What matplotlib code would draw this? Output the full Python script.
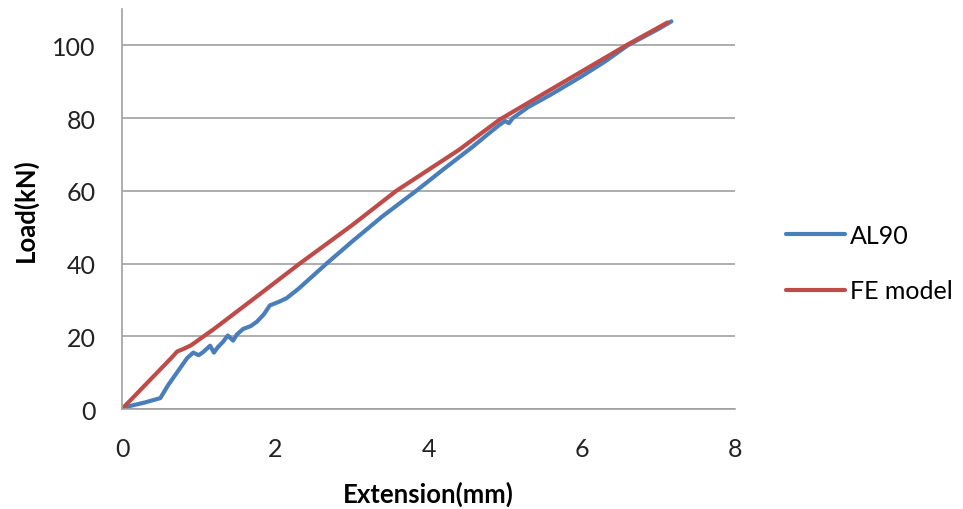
import matplotlib
matplotlib.use('Agg')
import matplotlib.pyplot as plt

plt.rcParams['font.family'] = ['Lato', 'DejaVu Sans']

# AL90 test curve (blue)
al90_x = [0, 0.1, 0.3, 0.5, 0.6, 0.75, 0.85, 0.93, 1.0, 1.05, 1.15, 1.2, 1.25,
          1.32, 1.38, 1.45, 1.5, 1.58, 1.68, 1.76, 1.85, 1.93, 2.05, 2.15, 2.3,
          2.67, 3.0, 3.4, 3.84, 4.2, 4.57, 4.8, 4.93, 5.0, 5.05, 5.1, 5.3, 5.6,
          6.0, 6.3, 6.6, 7.0, 7.17]
al90_y = [0, 0.8, 1.8, 3.0, 6.5, 11, 14, 15.5, 14.8, 15.5, 17.4, 15.5, 17,
          18.5, 20.2, 18.8, 20.5, 22, 22.8, 24, 26, 28.5, 29.5, 30.5, 33,
          40, 46, 53, 60, 66, 72, 76, 78.2, 79.2, 78.6, 80, 83, 86.5,
          91.5, 95.5, 100, 104.5, 106.6]

# FE model (red)
fe_x = [0, 0.66, 0.72, 0.8, 0.9, 1.2, 1.7, 2.32, 3.0, 3.58, 4.4, 4.93, 5.6, 6.58, 7.12]
fe_y = [0, 14.4, 15.8, 16.5, 17.5, 22, 30, 40, 50.5, 60, 71.3, 79.6, 87.9, 100, 106.3]

fig = plt.figure(figsize=(9.63, 5.10), dpi=100)
ax = fig.add_axes([122/963, 1 - 410/510, (735-122)/963, 400/510])

ax.plot(al90_x, al90_y, color="#4A7EBB", lw=3, label="AL90", solid_capstyle='round')
ax.plot(fe_x, fe_y, color="#BE4B48", lw=3, label="FE model", solid_capstyle='round')

ax.set_xlim(0, 8)
ax.set_ylim(0, 110)
ax.set_xticks([0, 2, 4, 6, 8])
ax.set_yticks([0, 20, 40, 60, 80, 100])
ax.grid(axis='y', color="#A0A0A0", lw=1.2)
ax.set_axisbelow(True)
ax.tick_params(length=0, labelsize=18, colors="#222222")
ax.tick_params(axis='y', pad=19)
ax.tick_params(axis='x', pad=20)
for s in ['top', 'right']:
    ax.spines[s].set_visible(False)
for s in ['left', 'bottom']:
    ax.spines[s].set_color("#A0A0A0")
    ax.spines[s].set_linewidth(1.2)

ax.set_xlabel("Extension(mm)", fontsize=18.5, fontweight='bold')
ax.set_ylabel("Load(kN)", fontsize=18.5, fontweight='bold')
ax.xaxis.set_label_coords(0.5, -0.18)
ax.yaxis.set_label_coords(-0.137, 0.5)

fig.legend(loc='center left', bbox_to_anchor=(786/963, 1 - 264/510), frameon=False,
           fontsize=18, handlelength=2.35, handletextpad=0.2, labelspacing=1.3,
           borderpad=0, borderaxespad=0)

plt.savefig("out.png", dpi=100)
plt.close()
